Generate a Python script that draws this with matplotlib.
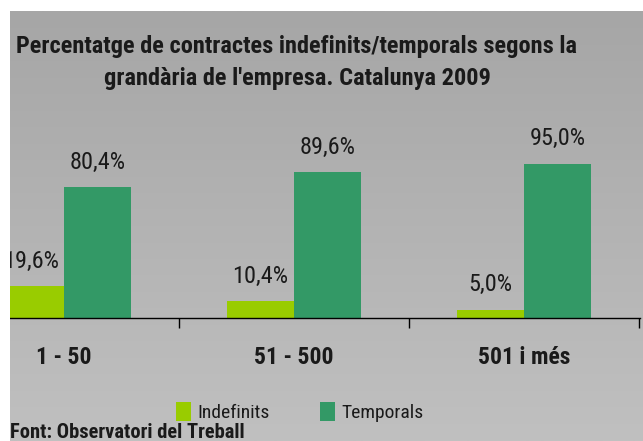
import numpy as np
import matplotlib
matplotlib.use("Agg")
import matplotlib.pyplot as plt
import matplotlib.font_manager as fm
from matplotlib.patches import Rectangle
from matplotlib.colors import LinearSegmentedColormap

categories = ["1 - 50", "51 - 500", "501 i més"]
indefinits = [19.6, 10.4, 5.0]
temporals = [80.4, 89.6, 95.0]
series_names = ["Indefinits", "Temporals"]
title_lines = ["Percentatge de contractes indefinits/temporals segons la",
               "grandària de l'empresa. Catalunya 2009"]
source = "Font: Observatori del Treball"

# choose a narrow font if one is installed
available = {f.name for f in fm.fontManager.ttflist}
narrow_cands = ["Liberation Sans Narrow", "Arial Narrow", "Roboto Condensed",
                "Open Sans Condensed", "Noto Sans Condensed", "DejaVu Sans Condensed"]
narrow = next((n for n in narrow_cands if n in available), None)
if narrow:
    plt.rcParams['font.family'] = [narrow, 'DejaVu Sans']
    k = 1.0
else:
    plt.rcParams['font.family'] = ['Liberation Sans', 'DejaVu Sans']
    k = 0.84

W, H = 643, 441
fig = plt.figure(figsize=(W / 100, H / 100), dpi=100)
fig.patch.set_facecolor("white")

def fx(px):
    return px / W

def fy(py):
    return 1 - py / H

# background gradient panel
bg = fig.add_axes([fx(10), 0, fx(W - 10), fy(11)])
grad = np.linspace(0, 1, 256).reshape(-1, 1)
cmap = LinearSegmentedColormap.from_list("g", ["#a6a6a6", "#c0c0c0"])
bg.imshow(grad, aspect="auto", cmap=cmap, extent=[0, 1, 1, 0])
bg.set_axis_off()

# main axes
x = np.arange(len(categories))
px_per_unit = 230.0
left_px, right_px, base_px = 10, 640, 318
top_px = base_px - 162.5
ax = fig.add_axes([fx(left_px), fy(base_px), fx(right_px - left_px), (base_px - top_px) / H])
ax.set_facecolor("none")

bw = 0.29
c1, c2 = "#99cc00", "#339966"
b1 = ax.bar(x - bw / 2, indefinits, bw, color=c1, label=series_names[0], zorder=2)
b2 = ax.bar(x + bw / 2, temporals, bw, color=c2, label=series_names[1], zorder=2)

def fmt(v):
    return f"{v:.1f}%".replace(".", ",")

for bars, vals in ((b1, indefinits), (b2, temporals)):
    for r, v in zip(bars, vals):
        ax.annotate(fmt(v), (r.get_x() + r.get_width() / 2, v), xytext=(0, 25),
                    textcoords="offset pixels", ha="center", va="center",
                    fontsize=17.5 * k, color="#1a1a1a", annotation_clip=False)

for s in ("top", "right", "left"):
    ax.spines[s].set_visible(False)
ax.spines["bottom"].set_color("black")
ax.spines["bottom"].set_linewidth(1.0)
ax.set_yticks([])
ax.set_xticks(np.arange(len(categories) + 1) - 0.5)
ax.set_xticklabels([])
ax.tick_params(axis="x", direction="out", length=7, width=1, color="black")
ax.set_xlim((left_px - 64) / px_per_unit, (right_px - 64) / px_per_unit)
ax.set_ylim(0, 100)

for xi, c in zip(x, categories):
    ax.text(xi, -24, c, ha="center", va="center", fontsize=17 * k, fontweight="bold",
            color="#1a1a1a", clip_on=False)

fig.text(fx(297), fy(47), title_lines[0], ha="center", va="center",
         fontsize=17.6 * k, fontweight="bold", color="#1a1a1a")
fig.text(fx(297), fy(78), title_lines[1], ha="center", va="center",
         fontsize=17.6 * k, fontweight="bold", color="#1a1a1a")

leg = fig.legend(handles=[b1, b2], labels=series_names, loc="center",
                 bbox_to_anchor=(fx(300), fy(412)), ncol=2, frameon=False,
                 fontsize=14 * k, handlelength=0.75, handleheight=1.1, handletextpad=0.35,
                 columnspacing=2.6)
for t in leg.get_texts():
    t.set_color("#1a1a1a")

fig.text(fx(10), fy(432), source, ha="left", va="center", fontsize=14.8 * k,
         fontweight="bold", color="#1a1a1a")

# white margins (left and top) that clip the drawing
fig.add_artist(Rectangle((0, 0), fx(10), 1, transform=fig.transFigure,
                         facecolor="white", edgecolor="none", zorder=50))
fig.add_artist(Rectangle((0, fy(11)), 1, 1 - fy(11), transform=fig.transFigure,
                         facecolor="white", edgecolor="none", zorder=50))

fig.savefig("out.png", dpi=100, facecolor="white")
